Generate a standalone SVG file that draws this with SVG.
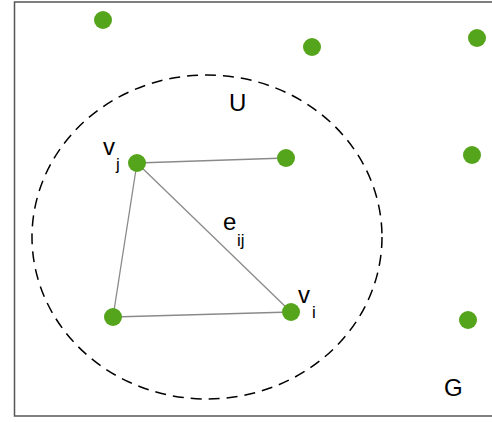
<svg xmlns="http://www.w3.org/2000/svg" width="492" height="422" viewBox="0 0 492 422">
<style>
.n{fill:#55a51c}
.e{stroke:#8a8a8a;stroke-width:1.3;fill:none}
.t{font-family:"Liberation Sans",Arial,sans-serif;fill:#000;font-size:24px}
.s{font-family:"Liberation Sans",Arial,sans-serif;fill:#000;font-size:17px}
</style>
<rect x="0" y="0" width="492" height="422" fill="#fff"/>
<path d="M500,2 H14.5 V416 H500" fill="none" stroke="#555" stroke-width="1.5"/>
<ellipse id="U" cx="207" cy="237" rx="175" ry="162" fill="none" stroke="#000" stroke-width="1.5" stroke-dasharray="11,7"/>
<g id="connectors">
<line class="e" x1="137" y1="163" x2="286" y2="158"/>
<line class="e" x1="137" y1="163" x2="113" y2="317"/>
<line class="e" x1="137" y1="163" x2="291" y2="312"/>
<line class="e" x1="113" y1="317" x2="291" y2="312"/>
</g>
<g id="n1"><circle class="n" cx="103" cy="20" r="9"/></g>
<g id="n2"><circle class="n" cx="312" cy="47" r="9"/></g>
<g id="n3"><circle class="n" cx="477" cy="38" r="9"/></g>
<g id="vj"><circle class="n" cx="137" cy="163" r="9"/><text class="t" x="103" y="155">v</text><text class="s" x="116" y="170">j</text></g>
<g id="n5"><circle class="n" cx="286" cy="158" r="9"/></g>
<g id="n6"><circle class="n" cx="472" cy="155" r="9"/></g>
<g id="n7"><circle class="n" cx="113" cy="317" r="9"/></g>
<g id="vi"><circle class="n" cx="291" cy="312" r="9"/><text class="t" x="298" y="303">v</text><text class="s" x="312" y="318">i</text></g>
<g id="n9"><circle class="n" cx="468" cy="320" r="9"/></g>
<text class="t" x="223" y="230">e</text>
<text class="s" x="237" y="246">ij</text>
<text class="t" x="229" y="111">U</text>
<text class="t" x="444" y="396">G</text>
</svg>
